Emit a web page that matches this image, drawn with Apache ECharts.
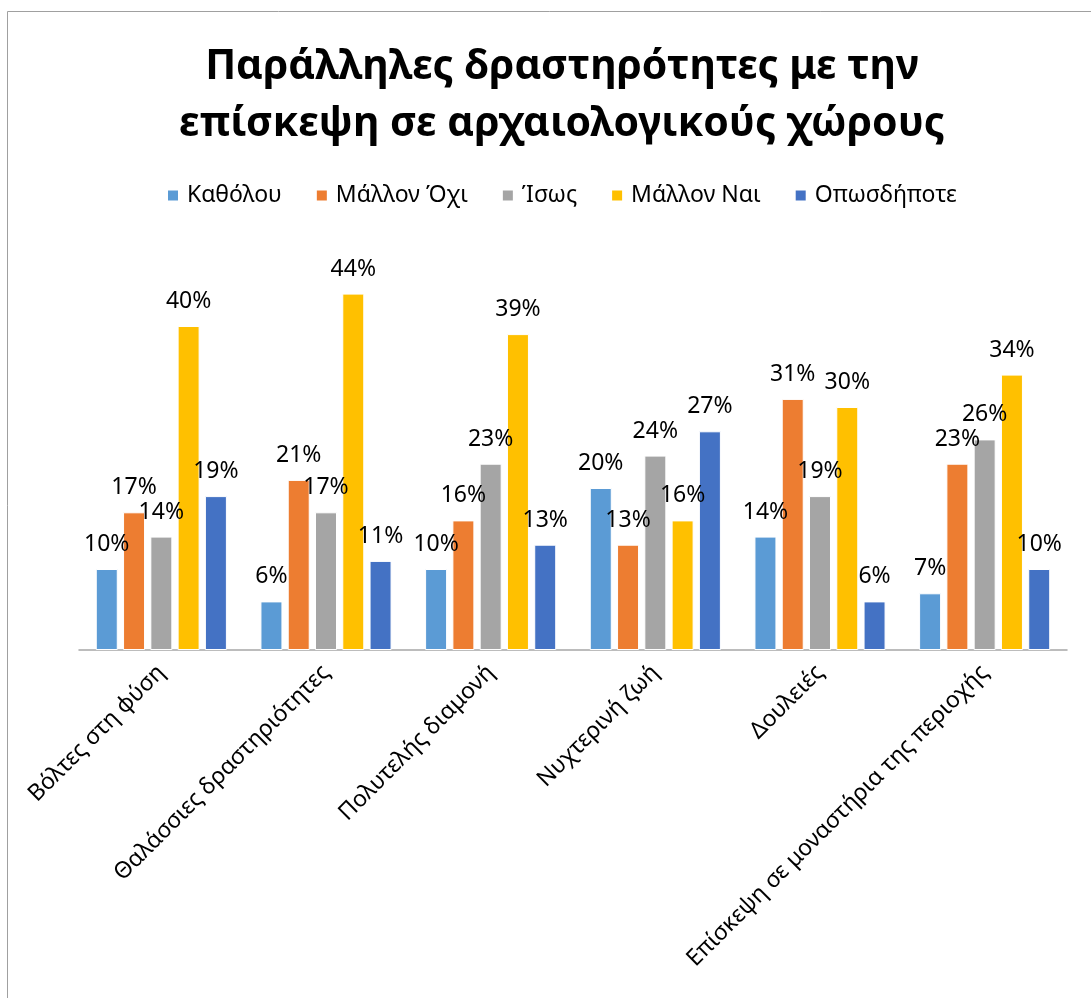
<!DOCTYPE html>
<html>
<head>
<meta charset="utf-8">
<script src="https://cdn.jsdelivr.net/npm/echarts@6/dist/echarts.min.js"></script>
<style>
  html, body { margin: 0; padding: 0; background: #ffffff; }
  #chart { width: 1091px; height: 998px; }
</style>
</head>
<body>
<div id="chart"></div>
<script>
// Activities combined with a visit to archaeological sites (percent of respondents)
const categories = [
  'Βόλτες στη φύση',
  'Θαλάσσιες δραστηριότητες',
  'Πολυτελής διαμονή',
  'Νυχτερινή ζωή',
  'Δουλειές',
  'Επίσκεψη σε μοναστήρια της περιοχής'
];
const seriesNames = ['Καθόλου', 'Μάλλον Όχι', 'Ίσως', 'Μάλλον Ναι', 'Οπωσδήποτε'];
const katholou   = [10, 6, 10, 20, 14, 7];
const mallonOxi  = [17, 21, 16, 13, 31, 23];
const isos       = [14, 17, 23, 24, 19, 26];
const mallonNai  = [40, 44, 39, 16, 30, 34];
const oposdipote = [19, 11, 13, 27, 6, 10];
const seriesValues = [katholou, mallonOxi, isos, mallonNai, oposdipote];
const colors = ['#5B9BD5', '#ED7D31', '#A5A5A5', '#FFC000', '#4472C4'];

const FONT = 'Noto Sans';

const chart = echarts.init(document.getElementById('chart'), null, { renderer: 'canvas' });

chart.setOption({
  animation: false,
  backgroundColor: '#ffffff',
  color: colors,
  title: {
    text: 'Παράλληλες δραστηρότητες με την\nεπίσκεψη σε αρχαιολογικούς χώρους',
    left: 557,
    top: 34,
    textAlign: 'center',
    textStyle: {
      fontFamily: FONT,
      fontWeight: 'bold',
      fontSize: 41,
      lineHeight: 57,
      color: '#000000'
    }
  },
  legend: {
    data: seriesNames,
    left: 161,
    top: 179,
    icon: 'rect',
    itemWidth: 12,
    itemHeight: 12,
    itemGap: 33,
    textStyle: { fontFamily: FONT, fontSize: 23, color: '#000000', padding: [0, 0, 0, 3] }
  },
  graphic: [{
    type: 'rect',
    shape: { x: 7.5, y: 11.5, width: 1200, height: 1200 },
    style: { fill: null, stroke: '#a0a0a0', lineWidth: 1 },
    silent: true,
    z: -1
  }],
  grid: { left: 79, right: 24, top: 245, bottom: 348, containLabel: false },
  xAxis: {
    type: 'category',
    data: categories,
    axisLine: { show: true, lineStyle: { color: '#a6a6a6', width: 1.5 } },
    axisTick: { show: false },
    axisLabel: {
      interval: 0,
      rotate: 45,
      margin: 19,
      fontFamily: FONT,
      fontSize: 23,
      color: '#000000'
    }
  },
  yAxis: {
    type: 'value',
    min: 0,
    max: 50,
    show: false,
    splitLine: { show: false }
  },
  series: seriesNames.map((name, i) => ({
    name: name,
    type: 'bar',
    data: seriesValues[i],
    barWidth: 22,
    barGap: '24%',
    itemStyle: { color: colors[i], borderColor: '#ffffff', borderWidth: 1 },
    label: {
      show: true,
      position: 'top',
      distance: 13,
      formatter: p => p.value + '%',
      fontFamily: FONT,
      fontSize: 23,
      color: '#000000'
    }
  }))
});
</script>
</body>
</html>
